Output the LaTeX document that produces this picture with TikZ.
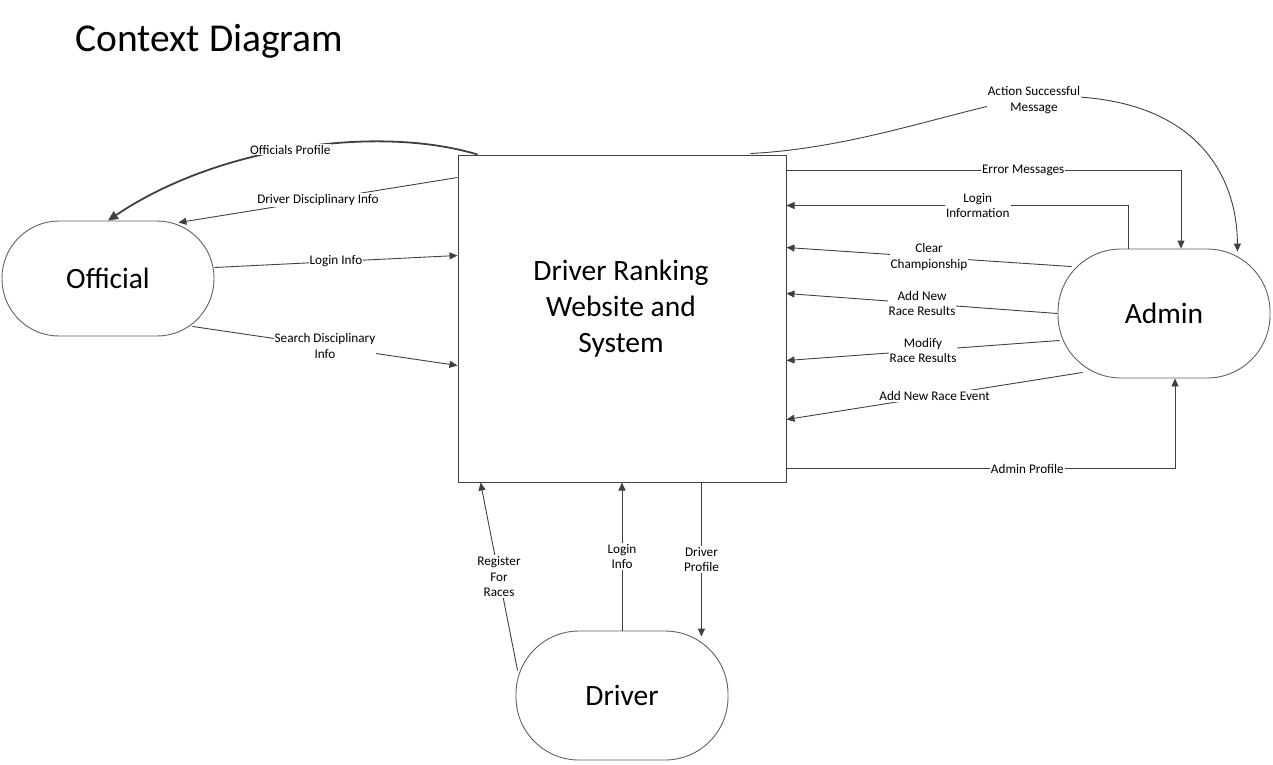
\documentclass[tikz,border=0pt]{standalone}
\usepackage{fontspec}
\setmainfont{Carlito}
\usetikzlibrary{arrows.meta,calc}
\definecolor{linegray}{HTML}{404040}
\definecolor{entgray}{HTML}{606060}
\begin{document}
\begin{tikzpicture}[x=1pt,y=-1pt,
  flow/.style={draw=linegray, line width=0.9pt, -{Triangle[length=8pt,width=7pt]}},
  bigflow/.style={draw=linegray, line width=1.8pt, -{Triangle[length=10pt,width=9pt]}},
  lbl/.style={fill=white, inner sep=1pt, font=\fontsize{13.2}{15.5}\selectfont, align=center, text=black},
  ent/.style={draw=entgray, line width=0.9pt, minimum width=212pt, inner sep=0pt, font=\fontsize{29.5}{36}\selectfont},
  sysbox/.style={draw=linegray, line width=1pt, minimum width=328pt, minimum height=327pt, inner sep=0pt},
  systext/.style={align=center, inner sep=0pt, font=\fontsize{29.5}{36}\selectfont},
]
\useasboundingbox (0,0) rectangle (1273,764);

\node[anchor=base west, font=\fontsize{39.5}{46}\selectfont] (title) at (72,51) {Context Diagram};

\node[sysbox] (sys) at (622,318.5) {};
\node[systext] (systxt) at (621,309) {Driver Ranking\\Website and\\System};
\node[ent, minimum height=115pt, rounded corners=57pt] (off) at (108,278.5) {Official};
\node[ent, minimum height=129pt, rounded corners=63pt] (adm) at (1164,313.5) {Admin};
\node[ent, minimum height=129pt, rounded corners=63pt] (drv) at (622,695.5) {Driver};

% Official flows
\draw[bigflow] ($(sys.north west)+(20,0)$) .. controls (380,125) and (220,145) .. (off.north)
  node[lbl, pos=0.52] {Officials Profile};
\draw[flow] ($(sys.north west)+(0,23)$) -- ($(off.north east)+(-36,2)$)
  node[lbl, pos=0.5] {Driver Disciplinary Info};
\draw[flow] ($(off.east)+(0,-11)$) -- ($(sys.north west)+(0,101)$)
  node[lbl, pos=0.5] {Login Info};
\draw[flow] ($(off.south east)+(-22,-10)$) -- ($(sys.north west)+(0,211)$)
  node[lbl, pos=0.5] {Search Disciplinary\\Info};

% Admin flows
\draw[flow] ($(sys.north east)+(-36,-1)$) .. controls (860,148) and (960,108) .. (1034,97)
  node[lbl, yshift=-3pt] {Action Successful\\Message}
  .. controls (1190,88) and (1237,170) .. ($(adm.north east)+(-33,3)$);
\draw[flow] ($(sys.north east)+(0,16)$) -| ($(adm.north)+(17,0)$)
  node[lbl, pos=0.3] {Error Messages};
\draw[flow] ($(adm.north)+(-36,0)$) |- ($(sys.north east)+(0,51)$)
  node[lbl, pos=0.72] {Login\\Information};
\draw[flow] ($(adm.north west)+(14,18)$) -- ($(sys.north east)+(0,93)$)
  node[lbl, pos=0.5] {Clear\\Championship};
\draw[flow] (adm.west) -- ($(sys.north east)+(0,139)$)
  node[lbl, pos=0.5] {Add New\\Race Results};
\draw[flow] ($(adm.south west)+(2,-38)$) -- ($(sys.north east)+(0,206)$)
  node[lbl, pos=0.5] {Modify\\Race Results};
\draw[flow] ($(adm.south west)+(25,-6)$) -- ($(sys.north east)+(0,265)$)
  node[lbl, pos=0.5] {Add New Race Event};
\draw[flow] ($(sys.south east)+(0,-14)$) -| ($(adm.south)+(11,0)$)
  node[lbl, pos=0.31] {Admin Profile};

% Driver flows
\draw[flow] ($(drv.west)+(2,-25)$) -- ($(sys.south west)+(23,0)$)
  node[lbl, pos=0.5] {Register\\For\\Races};
\draw[flow] (drv.north) -- (sys.south)
  node[lbl, pos=0.5] {Login\\Info};
\draw[flow] ($(sys.south east)+(-85,0)$) -- ($(drv.north east)+(-27,6)$)
  node[lbl, pos=0.5] {Driver\\Profile};
\end{tikzpicture}
\end{document}
